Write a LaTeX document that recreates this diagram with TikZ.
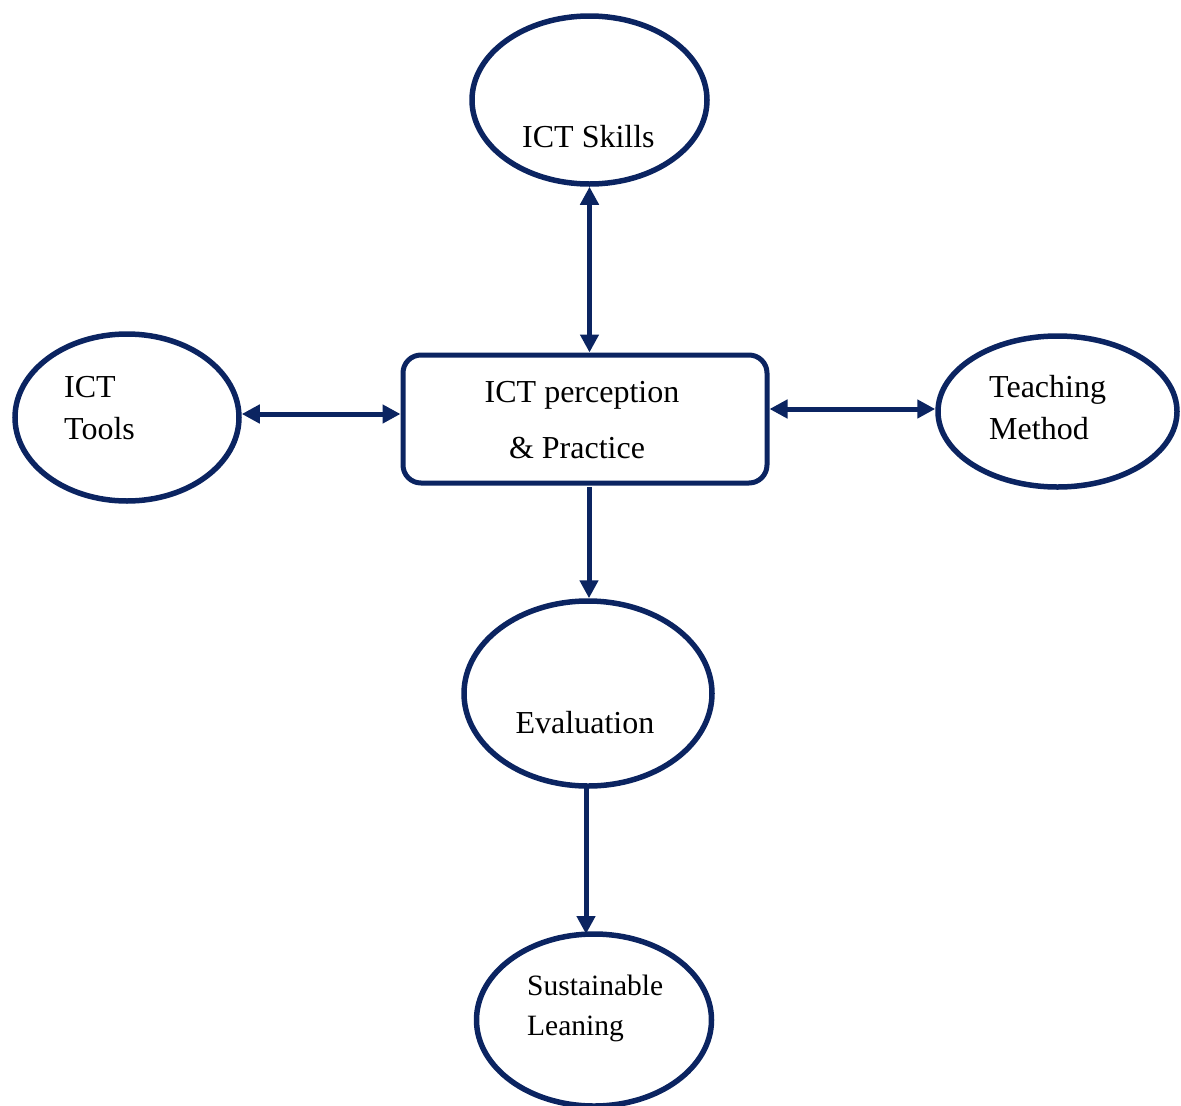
\documentclass[tikz,border=0pt]{standalone}
\usepackage{fontspec}
\setmainfont{Liberation Serif}
\usetikzlibrary{shapes.geometric,arrows.meta}
\definecolor{navy}{HTML}{0B2461}
\begin{document}
\begin{tikzpicture}[x=1pt,y=-1pt,
  oval/.style={ellipse,draw=navy,line width=5.5pt,inner sep=0pt},
  txt/.style={inner sep=0pt,font=\fontsize{32}{38}\selectfont},
  stxt/.style={inner sep=0pt,font=\fontsize{29.5}{35}\selectfont},
  conn/.style={draw=navy,line width=5pt,-{Triangle[length=18pt,width=18pt]}},
  bconn/.style={draw=navy,line width=5pt,{Triangle[length=18pt,width=18pt]}-{Triangle[length=18pt,width=18pt]}}]
\useasboundingbox (0,0) rectangle (1181,1106);
\node[oval,minimum width=235pt,minimum height=168pt] (skills) at (589.5,100) {};
\node[oval,minimum width=224pt,minimum height=167pt] (tools) at (127,417.5) {};
\node[draw=navy,line width=5pt,rounded corners=18pt,minimum width=364pt,minimum height=128pt,inner sep=0pt] (box) at (585,419) {};
\node[oval,minimum width=239pt,minimum height=151pt] (teach) at (1057.5,411.5) {};
\node[oval,minimum width=248pt,minimum height=185pt] (eval) at (588,693.5) {};
\node[oval,minimum width=235pt,minimum height=172pt] (sust) at (594,1020) {};
\node[txt,anchor=base west] (tskills) at (522,147) {ICT Skills};
\node[txt,anchor=base west] (ttools1) at (64,397) {ICT};
\node[txt,anchor=base west] (ttools2) at (64,439) {Tools};
\node[txt,anchor=base] (tbox1) at (582,402) {ICT perception};
\node[txt,anchor=base] (tbox2) at (577,458) {\& Practice};
\node[txt,anchor=base west] (tteach1) at (989,397) {Teaching};
\node[txt,anchor=base west] (tteach2) at (989,439) {Method};
\node[txt,anchor=base] (teval) at (585,733) {Evaluation};
\node[stxt,anchor=base west] (tsust1) at (527,995) {Sustainable};
\node[stxt,anchor=base west] (tsust2) at (527,1035) {Leaning};
\draw[bconn] (skills.south) -- (skills.south |- box.north);
\draw[bconn] (tools.east |- 0,414) -- (box.west |- 0,414);
\draw[bconn] (box.east |- 0,409) -- (teach.west |- 0,409);
\draw[conn] (589,487) -- (eval.north -| 589,0);
\draw[conn] (586,788) -- (586,934);
\end{tikzpicture}
\end{document}
